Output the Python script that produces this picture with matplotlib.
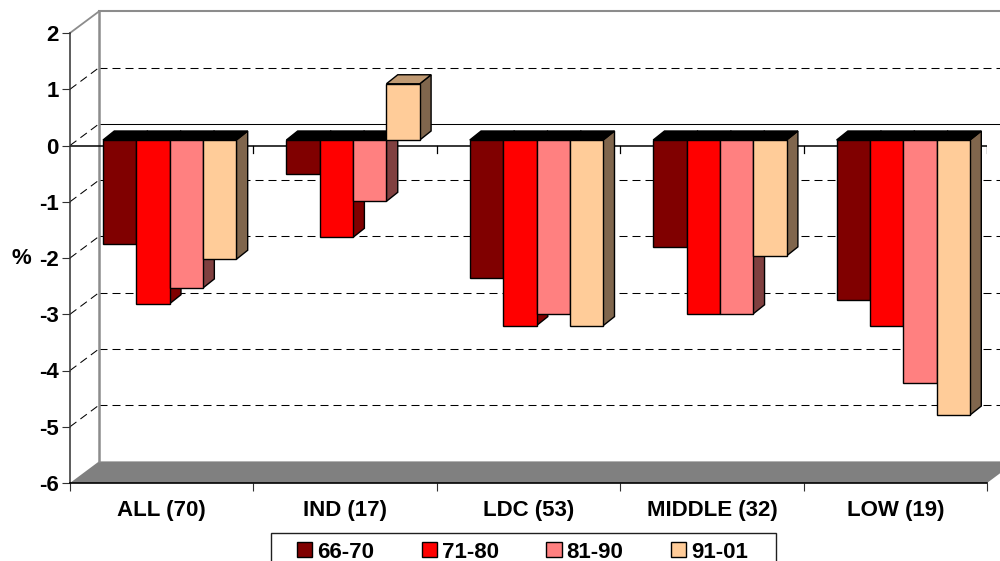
import matplotlib
matplotlib.use("Agg")
import matplotlib.pyplot as plt
from matplotlib.patches import Polygon, Patch, Rectangle

plt.rcParams['font.family'] = ['Liberation Sans', 'DejaVu Sans']
plt.rcParams['font.weight'] = 'bold'
plt.rcParams['font.size'] = 16
plt.rcParams['lines.scale_dashes'] = False

categories = ['ALL (70)', 'IND (17)', 'LDC (53)', 'MIDDLE (32)', 'LOW (19)']
series_labels = ['66-70', '71-80', '81-90', '91-01']
s_66_70 = [-1.85, -0.61, -2.45, -1.91, -2.85]
s_71_80 = [-2.91, -1.73, -3.30, -3.09, -3.30]
s_81_90 = [-2.63, -1.09, -3.09, -3.09, -4.32]
s_91_01 = [-2.12, 1.00, -3.30, -2.06, -4.89]
series = [s_66_70, s_71_80, s_81_90, s_91_01]
front_colors = ['#800000', '#FF0000', '#FF8080', '#FFCC99']
side_colors = ['#400000', '#800000', '#804040', '#80664D']
top_color_pos = ['#A05050', '#C00000', '#C06060', '#C09A73']
y_ticks = [2, 1, 0, -1, -2, -3, -4, -5, -6]

W, H = 1000, 561
L, R, T, B = 70, 987, 33, 483
fig = plt.figure(figsize=(W / 100, H / 100), dpi=100)
ax = fig.add_axes([L / W, 1 - B / H, (R - L) / W, (B - T) / H])
ax.set_xlim(0, len(categories))
ax.set_ylim(-6, 2)
PX = len(categories) / (R - L)   # data x per pixel
PY = 8 / (B - T)                 # data y per pixel
WALL_X, WALL_Y = 29 * PX, 21.6 * PY
BAR_X0, BAR_Y0 = 8.0 * PX, 5.5 * PY
DEPTH_X, DEPTH_Y = 11.3 * PX, 9 * PY
BAR_W = 33.35 * PX
DASH = (0, (5.76, 3.6))
GRID_LW = 0.75

ax.patch.set_visible(False)
# floor
ax.add_patch(Polygon([(0, -6), (WALL_X, -6 + WALL_Y), (5 + WALL_X, -6 + WALL_Y), (5, -6)],
                     closed=True, fc='#808080', ec='none', clip_on=False, zorder=1))
# back wall edge
ax.plot([WALL_X, WALL_X], [-6 + WALL_Y, 2 + WALL_Y], color='#8C8C8C', lw=1.8, clip_on=False, zorder=1.2)
ax.plot([0, WALL_X], [2, 2 + WALL_Y], color='#8C8C8C', lw=1.3, clip_on=False, zorder=1.2)
ax.plot([WALL_X, 5 + WALL_X], [2 + WALL_Y, 2 + WALL_Y], color='#8C8C8C', lw=1.5, clip_on=False, zorder=1.2)
# gridlines
for v in y_ticks[1:-1]:
    solid = v == 0
    ax.plot([WALL_X, 5 + WALL_X], [v + WALL_Y, v + WALL_Y], color='black', lw=GRID_LW,
            ls='-' if solid else DASH, clip_on=False, zorder=1.1)
    ax.plot([0, WALL_X], [v, v + WALL_Y], color='black', lw=GRID_LW,
            ls=DASH, clip_on=False, zorder=1.1)
# zero line with ticks
ax.axhline(0, color='black', lw=1.1, zorder=2)
for c in range(1, len(categories) + 1):
    ax.plot([c, c], [0, -7 * PY], color='black', lw=0.9, zorder=2)
# bars
n = len(series)
for i, vals in enumerate(series):
    for c, v in enumerate(vals):
        x0 = c + 0.5 + BAR_X0 + (i - n / 2) * BAR_W
        x1 = x0 + BAR_W
        y0 = BAR_Y0
        yv = v + BAR_Y0
        ytop = max(y0, yv)
        ybot = min(y0, yv)
        z = 5 + i * 0.1
        ax.add_patch(Polygon([(x1, ybot), (x1 + DEPTH_X, ybot + DEPTH_Y),
                              (x1 + DEPTH_X, ytop + DEPTH_Y), (x1, ytop)], closed=True,
                             fc=side_colors[i], ec='black', lw=1.0, zorder=z, clip_on=False))
        ax.add_patch(Polygon([(x0, ytop), (x0 + DEPTH_X, ytop + DEPTH_Y),
                              (x1 + DEPTH_X, ytop + DEPTH_Y), (x1, ytop)], closed=True,
                             fc=top_color_pos[i] if v > 0 else 'black', ec='black', lw=1.0,
                             zorder=z, clip_on=False))
        ax.bar(x0, v, width=BAR_W, bottom=BAR_Y0, align='edge', color=front_colors[i],
               edgecolor='black', linewidth=1.0, zorder=z + 0.01, clip_on=False)

# axes
for s in ['top', 'right']:
    ax.spines[s].set_visible(False)
ax.spines['left'].set_color('#303030')
ax.spines['left'].set_linewidth(1.1)
ax.spines['bottom'].set_color('black')
ax.spines['bottom'].set_linewidth(1.2)
ax.spines['bottom'].set_zorder(3)
ax.set_yticks(y_ticks)
ax.set_yticklabels([str(v) for v in y_ticks])
ax.tick_params(axis='y', length=5.5, width=0.8, pad=2.5, color='#303030')
ax.set_xticks(range(len(categories) + 1))
ax.set_xticklabels([])
ax.set_xticks([c + 0.5 for c in range(len(categories))], minor=True)
ax.set_xticklabels(categories, minor=True)
ax.tick_params(axis='x', which='major', length=5.5, width=0.8, color='#303030')
ax.tick_params(axis='x', which='minor', length=0, pad=12.5)
ax.set_ylabel('%', rotation=0, fontweight='bold', fontsize=16, ha='center', va='center')
ax.yaxis.set_label_coords((21 - L) / (R - L), (B - 259) / (B - T))

# legend
fig.add_artist(Rectangle((271 / W, 1 - 575 / H), 505 / W, 42 / H, transform=fig.transFigure,
                         fc='white', ec='#202020', lw=1.0))
handles = [Patch(facecolor=c, edgecolor='black', linewidth=1.0) for c in front_colors]
leg = fig.legend(handles, series_labels, ncol=4, frameon=False, loc='center',
                 bbox_to_anchor=(522.5 / W, 1 - 552 / H), bbox_transform=fig.transFigure,
                 handlelength=0.68, handleheight=0.68, handletextpad=0.22, columnspacing=2.14,
                 borderpad=0, borderaxespad=0, prop={'weight': 'bold', 'size': 16})

fig.savefig('out.png', dpi=100)
